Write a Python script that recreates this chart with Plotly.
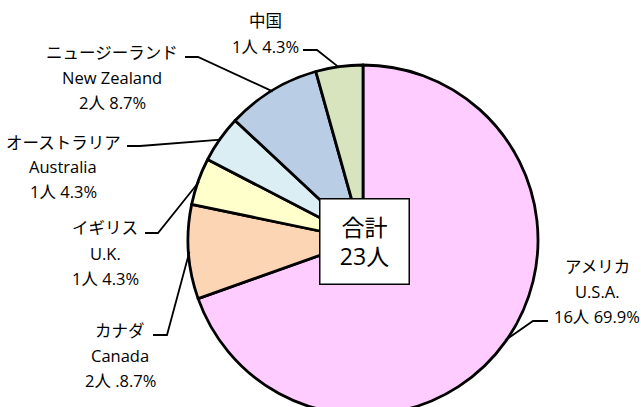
import math
import plotly.graph_objects as go

# data
names_ja = ["アメリカ", "カナダ", "イギリス", "オーストラリア", "ニュージーランド", "中国"]
names_en = ["U.S.A.", "Canada", "U.K.", "Australia", "New Zealand", ""]
counts = [16, 2, 1, 1, 2, 1]
pct_labels = ["69.9%", ".8.7%", "4.3%", "4.3%", "8.7%", "4.3%"]
colors = ["#FFCCFF", "#FCD5B5", "#FFFFCC", "#DBEEF4", "#B9CDE5", "#D7E4BD"]
total_label = "合計<br>23人"

W, H = 641, 420
CX, CY, R = 363, 240, 175
FONT = "Open Sans, Noto Sans CJK JP, sans-serif"


def px(x):
    return x / W


def py(y):
    return 1 - y / H


fig = go.Figure(
    go.Pie(
        values=counts,
        labels=names_ja,
        sort=False,
        direction="clockwise",
        rotation=0,
        textinfo="none",
        hoverinfo="label+value",
        marker={"colors": colors, "line": {"color": "#000000", "width": 2.8}},
        domain={"x": [px(CX - R), px(CX + R)], "y": [py(CY + R), py(CY - R)]},
        showlegend=False,
    )
)

# label block: (center x, first line y, text-side end of leader, elbow x, leader y)
label_pos = [
    (597, 266, 548, 533, 321),
    (120, 330, 153, 167, 335),
    (105, 228, 145, 158, 233),
    (63, 142, 127, 140, 146),
    (112, 52, 185, 198, 57),
    (265, 20, 303, 317, 50),
]

annotations = []
shapes = []
tot = sum(counts)
cum = 0
for i, v in enumerate(counts):
    lx, ly, ex, bx, by = label_pos[i]
    lines = [names_ja[i]]
    if names_en[i]:
        lines.append(names_en[i])
    lines.append(f"{v}人 {pct_labels[i]}")
    step = 25 if len(lines) == 3 else 26
    for k, t in enumerate(lines):
        annotations.append(dict(
            x=px(lx), y=py(ly + k * step), xref="paper", yref="paper",
            text=t, showarrow=False, xanchor="center", yanchor="middle",
            font={"size": 16.5, "color": "#000000", "family": FONT},
        ))
    th = (cum + v / 2) / tot * 2 * math.pi
    cum += v
    sx = CX + (R - 1) * math.sin(th)
    sy = CY - (R - 1) * math.cos(th)
    shapes.append(dict(
        type="path", xref="paper", yref="paper",
        path=f"M {px(ex)},{py(by)} L {px(bx)},{py(by)} L {px(sx)},{py(sy)}",
        line={"color": "#000000", "width": 1.8},
    ))

# total box in the middle
annotations.append(dict(
    x=px(364.5), y=py(241.5), xref="paper", yref="paper",
    text=total_label, showarrow=False, xanchor="center", yanchor="middle",
    font={"size": 23, "color": "#000000", "family": FONT},
    bgcolor="#FFFFFF", bordercolor="#000000", borderwidth=1.5,
    width=86, height=82, borderpad=1,
))

fig.update_layout(
    width=W,
    height=H,
    margin={"l": 0, "r": 0, "t": 0, "b": 0},
    paper_bgcolor="#FFFFFF",
    plot_bgcolor="#FFFFFF",
    annotations=annotations,
    shapes=shapes,
)

fig.write_html(
    "out.html",
    config={"displayModeBar": False},
    post_script="document.body.style.margin='0';document.body.style.overflow='hidden';",
)
